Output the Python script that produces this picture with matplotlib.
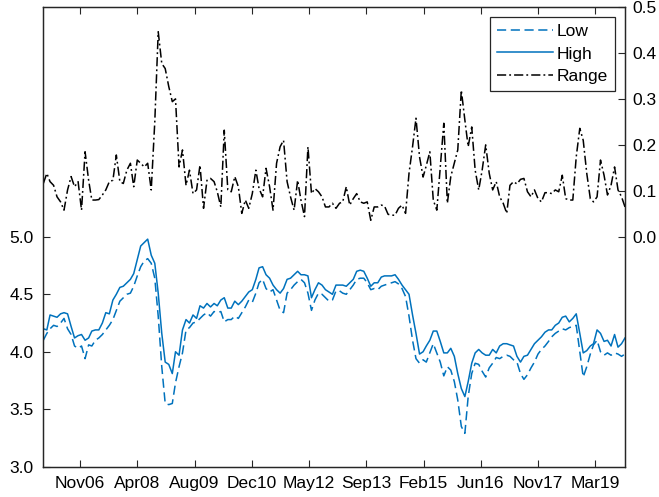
import datetime as dt
import matplotlib
matplotlib.use("Agg")
import matplotlib.pyplot as plt
import matplotlib.dates as mdates
import pandas as pd

plt.rcParams['font.family'] = ['Liberation Sans', 'DejaVu Sans']

# monthly data, Jan 2006 - Dec 2019
dates = pd.date_range('2006-01-01', periods=168, freq='MS')

high = [4.20, 4.19, 4.32, 4.31, 4.30, 4.33, 4.34, 4.33, 4.22, 4.12, 4.14, 4.15, 4.10, 4.12,
        4.18, 4.19, 4.19, 4.25, 4.34, 4.33, 4.45, 4.50, 4.56, 4.57, 4.60, 4.63, 4.68, 4.80,
        4.92, 4.95, 4.98, 4.84, 4.77, 4.51, 4.16, 3.91, 3.89, 3.81, 4.00, 3.97, 4.19, 4.28,
        4.25, 4.32, 4.29, 4.40, 4.38, 4.42, 4.39, 4.42, 4.40, 4.45, 4.47, 4.38, 4.38, 4.44,
        4.41, 4.44, 4.48, 4.52, 4.54, 4.63, 4.73, 4.74, 4.67, 4.64, 4.58, 4.54, 4.51, 4.55,
        4.63, 4.64, 4.67, 4.70, 4.67, 4.67, 4.66, 4.47, 4.54, 4.60, 4.58, 4.54,
        4.52, 4.50, 4.58, 4.58, 4.58, 4.57, 4.60, 4.63, 4.70, 4.71, 4.70, 4.64, 4.57, 4.60,
        4.60, 4.65, 4.66, 4.66, 4.66, 4.67, 4.63, 4.58, 4.54, 4.50, 4.32, 4.16, 3.98,
        4.00, 4.05, 4.10, 4.18, 4.18, 4.09, 3.99, 3.99, 4.03, 3.96, 3.81, 3.68, 3.61, 3.74,
        3.90, 3.99, 4.02, 3.99, 3.97, 3.97, 4.02, 3.99, 4.05, 4.07, 4.07, 4.06, 4.05,
        3.96, 3.91, 3.96, 3.97, 4.02, 4.07, 4.10, 4.13, 4.17, 4.19, 4.19, 4.23, 4.25, 4.30,
        4.31, 4.26, 4.29, 4.33, 4.16, 3.99, 4.01, 4.05, 4.07, 4.19, 4.16, 4.09, 4.10, 4.05,
        4.15, 4.04, 4.07, 4.12]

low = [4.10, 4.16, 4.20, 4.23, 4.22, 4.25, 4.29, 4.20, 4.15, 4.05, 4.03, 4.05, 3.94, 4.06,
       4.05, 4.10, 4.12, 4.15, 4.19, 4.23, 4.28, 4.36, 4.44, 4.47, 4.50, 4.51, 4.57, 4.66,
       4.74, 4.79, 4.81, 4.77, 4.64, 4.31, 3.87, 3.55, 3.54, 3.55, 3.73, 3.87, 3.99, 4.19,
       4.21, 4.25, 4.26, 4.29, 4.32, 4.34, 4.31, 4.35, 4.34, 4.35, 4.26, 4.28, 4.28, 4.31,
       4.29, 4.34, 4.39, 4.45, 4.43, 4.51, 4.60, 4.63, 4.55, 4.52, 4.54, 4.45, 4.36, 4.34,
       4.51, 4.54, 4.58, 4.61, 4.63, 4.60, 4.51, 4.36, 4.45, 4.51, 4.50, 4.47,
       4.44, 4.45, 4.53, 4.53, 4.51, 4.50, 4.54, 4.58, 4.63, 4.64, 4.64, 4.60, 4.54, 4.55,
       4.54, 4.57, 4.58, 4.59, 4.60, 4.61, 4.59, 4.55, 4.48, 4.31, 4.10, 3.94, 3.90,
       3.93, 3.91, 3.99, 4.07, 3.99, 3.91, 3.79, 3.87, 3.84, 3.74, 3.58, 3.35, 3.29, 3.61,
       3.81, 3.90, 3.89, 3.83, 3.78, 3.86, 3.90, 3.95, 3.94, 3.96, 3.97, 3.96, 3.93,
       3.91, 3.81, 3.76, 3.80, 3.86, 3.91, 3.98, 4.02, 4.05, 4.09, 4.13, 4.16, 4.18, 4.20,
       4.19, 4.21, 4.22, 4.23, 4.00, 3.78, 3.87, 3.98, 4.06, 4.10, 4.00, 3.97, 3.99, 3.97,
       3.99, 3.98, 3.96, 3.98]

rng = [0.116, 0.138, 0.120, 0.112, 0.087, 0.076, 0.058, 0.102, 0.131, 0.109, 0.120, 0.058,
       0.185, 0.123, 0.080, 0.080, 0.081, 0.091, 0.102, 0.120, 0.123, 0.178, 0.120, 0.116,
       0.145, 0.160, 0.109, 0.167,
       0.160, 0.152, 0.160, 0.102, 0.250, 0.446, 0.377, 0.366, 0.327, 0.294, 0.300, 0.152,
       0.189, 0.112, 0.145, 0.094, 0.102, 0.156, 0.062, 0.123, 0.127, 0.120, 0.098, 0.065,
       0.232, 0.102, 0.098, 0.131,
       0.109, 0.051, 0.080, 0.062, 0.094, 0.145, 0.105, 0.087, 0.149, 0.109, 0.058, 0.160,
       0.196, 0.210, 0.120, 0.087, 0.058, 0.123, 0.080, 0.044, 0.196, 0.094, 0.105, 0.098,
       0.087, 0.065,
       0.065, 0.073, 0.062, 0.073, 0.076, 0.109, 0.069, 0.083, 0.094, 0.076, 0.073, 0.076,
       0.036, 0.065, 0.065, 0.069, 0.067, 0.049, 0.047, 0.047, 0.062, 0.069, 0.051, 0.138,
       0.196, 0.258, 0.174, 0.130, 0.155,
       0.185, 0.080, 0.058, 0.152, 0.247, 0.073, 0.131, 0.160, 0.189, 0.319, 0.254, 0.196,
       0.239, 0.145, 0.102, 0.145, 0.200, 0.138, 0.102, 0.120, 0.087, 0.073, 0.051, 0.112,
       0.120, 0.115, 0.125,
       0.127, 0.098, 0.087, 0.102, 0.083, 0.076, 0.096, 0.096, 0.094, 0.102, 0.098, 0.134,
       0.083, 0.080, 0.080, 0.174, 0.236, 0.210, 0.138, 0.083, 0.076, 0.087, 0.167, 0.134,
       0.091, 0.112, 0.152, 0.102, 0.087, 0.065]

# x ticks every 500 days (MATLAB datenum 733000, 733500, ...)
tick_dates = [dt.date.fromordinal(d - 366) for d in range(733000, 737501, 500)]

blue = '#0072BD'
axcol = '#262626'
fs = 12.5

fig = plt.figure(figsize=(6.59, 4.97), dpi=100)
ax = fig.add_axes([0.0657, 0.061, 0.8827, 0.925])
ax2 = ax.twinx()

l1, = ax.plot(dates, low, '--', color=blue, lw=1.1, dashes=(6, 3), label='Low')
l2, = ax.plot(dates, high, '-', color=blue, lw=1.1, label='High')
l3, = ax2.plot(dates, rng, '-.', color='black', lw=1.1, dashes=(6, 2, 1.2, 2), label='Range')

ax.set_xlim(dates[0], dates[-1])
ax.set_ylim(3, 7)
ax.set_yticks([3.0, 3.5, 4.0, 4.5, 5.0])
ax.yaxis.set_major_formatter(plt.FormatStrFormatter('%.1f'))
ax2.set_ylim(-0.5, 0.5)
ax2.set_yticks([0.0, 0.1, 0.2, 0.3, 0.4, 0.5])
ax2.yaxis.set_major_formatter(plt.FormatStrFormatter('%.1f'))

ax.set_xticks(tick_dates)
ax.xaxis.set_major_formatter(mdates.DateFormatter('%b%y'))

ax.tick_params(axis='x', direction='in', top=True, length=5, pad=7,
               labelsize=fs, colors=axcol, labelcolor='black')
ax.tick_params(axis='y', direction='in', length=5, pad=7, labelsize=fs,
               colors=axcol, labelcolor='black')
ax2.tick_params(axis='y', direction='in', length=5, pad=5.4, labelsize=fs,
                colors=axcol, labelcolor='black')
for a in (ax, ax2):
    for s in a.spines.values():
        s.set_color(axcol)
        s.set_linewidth(0.9)

leg = ax2.legend(handles=[l1, l2, l3], loc='upper right', fontsize=fs,
                 fancybox=False, edgecolor=axcol, framealpha=1,
                 handlelength=3.2, handletextpad=0.2, labelspacing=0.4,
                 borderaxespad=0.6, borderpad=0.4)
leg.get_frame().set_linewidth(0.9)

fig.savefig('out.png', dpi=100)
